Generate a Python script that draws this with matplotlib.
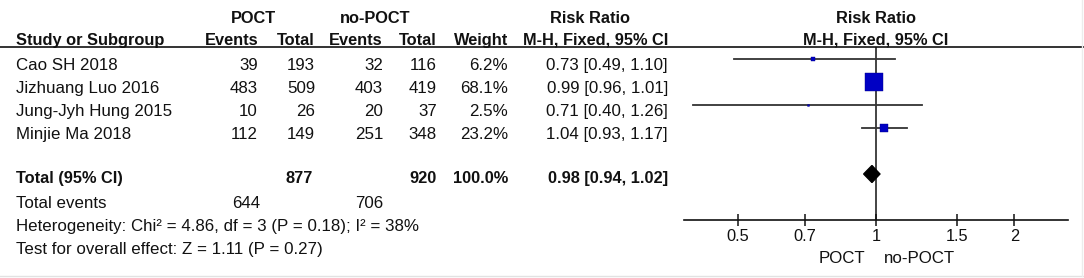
import matplotlib
matplotlib.use("Agg")
import matplotlib.pyplot as plt
import numpy as np

plt.rcParams['font.family'] = ['Liberation Sans', 'DejaVu Sans']
plt.rcParams['font.size'] = 12.2

# data
studies = ['Cao SH 2018', 'Jizhuang Luo 2016', 'Jung-Jyh Hung 2015', 'Minjie Ma 2018']
poct_events = [39, 483, 10, 112]
poct_total = [193, 509, 26, 149]
no_events = [32, 403, 20, 251]
no_total = [116, 419, 37, 348]
weights = [6.2, 68.1, 2.5, 23.2]
rr = [0.73, 0.99, 0.71, 1.04]
ci_low = [0.49, 0.96, 0.40, 0.93]
ci_high = [1.10, 1.01, 1.26, 1.17]

total_rr = 0.98
total_low = 0.94
total_high = 1.02
heterogeneity = 'Heterogeneity: Chi² = 4.86, df = 3 (P = 0.18); I² = 38%'
overall = 'Test for overall effect: Z = 1.11 (P = 0.27)'

ticks = [0.5, 0.7, 1, 1.5, 2]
tick_labels = ['0.5', '0.7', '1', '1.5', '2']

W, H = 1084, 278
fig = plt.figure(figsize=(W / 100, H / 100), dpi=100)

# text layer: x in pixels, y in row units (23 px per row, row 0 at y=59)
ax_t = fig.add_axes([0, 0, 1, 1])
ax_t.set_xlim(0, W)
ax_t.set_ylim((H - 59) / 23, (0 - 59) / 23)
ax_t.axis('off')

col_ev1, col_tot1, col_ev2, col_tot2, col_w, col_rr = 258, 315, 383, 437, 508, 668
txt = '#111111'
off = 0.46


def put(x, row, s, ha='right', bold=False, size=None):
    ax_t.text(x, row + off, s, ha=ha, va='baseline', color=txt,
              fontweight='bold' if bold else 'normal',
              fontsize=size if size else (11.8 if bold else 12.2))


# headers
hrow1, hrow2 = -1.565 - off, -0.63 - off
put(253, hrow1, 'POCT', ha='center', bold=True)
put(375, hrow1, 'no-POCT', ha='center', bold=True)
put(590, hrow1, 'Risk Ratio', ha='center', bold=True)
put(876, hrow1, 'Risk Ratio', ha='center', bold=True)
put(16, hrow2, 'Study or Subgroup', ha='left', bold=True)
put(col_ev1, hrow2, 'Events', bold=True)
put(col_tot1, hrow2, 'Total', bold=True)
put(col_ev2, hrow2, 'Events', bold=True)
put(col_tot2, hrow2, 'Total', bold=True)
put(col_w, hrow2, 'Weight', bold=True)
put(col_rr, hrow2, 'M-H, Fixed, 95% CI', bold=True)
put(876, hrow2, 'M-H, Fixed, 95% CI', ha='center', bold=True)

for i, name in enumerate(studies):
    put(16, i, name, ha='left')
    put(col_ev1, i, str(poct_events[i]))
    put(col_tot1, i, str(poct_total[i]))
    put(col_ev2, i, str(no_events[i]))
    put(col_tot2, i, str(no_total[i]))
    put(col_w, i, f'{weights[i]:.1f}%')
    put(col_rr, i, f'{rr[i]:.2f} [{ci_low[i]:.2f}, {ci_high[i]:.2f}]')

trow = len(studies) + 1
put(16, trow - 0.06, 'Total (95% CI)', ha='left', bold=True)
put(col_tot1 - 2, trow - 0.06, str(sum(poct_total)), bold=True)
put(col_tot2, trow - 0.06, str(sum(no_total)), bold=True)
put(col_w, trow - 0.06, f'{sum(weights):.1f}%', bold=True)
put(col_rr, trow - 0.06, f'{total_rr:.2f} [{total_low:.2f}, {total_high:.2f}]', bold=True)
put(16, trow + 1, 'Total events', ha='left')
put(col_ev1 + 2, trow + 1, str(sum(poct_events)))
put(col_ev2, trow + 1, str(sum(no_events)))
put(16, trow + 2, heterogeneity, ha='left')
put(16, trow + 3, overall, ha='left')
put(865, trow + 3.42, 'POCT')
put(884, trow + 3.42, 'no-POCT', ha='left')

# frame lines
ax_t.plot([0, W], [(47 - 59) / 23] * 2, color='#111111', lw=1.2, solid_capstyle='butt')
ax_t.plot([0, W], [(276 - 59) / 23] * 2, color='#e2e2e2', lw=1.0)
ax_t.plot([1082, 1082], [(0 - 59) / 23, (276 - 59) / 23], color='#ececec', lw=1.0)

# forest layer
x0, x1 = 684, 1068
ax_f = fig.add_axes([x0 / W, 1 - 220 / H, (x1 - x0) / W, 173 / H])
ax_f.patch.set_alpha(0)
ax_f.set_xscale('log')
ppl = 199.6
ax_f.set_xlim(np.exp((x0 - 876) / ppl), np.exp((x1 - 876) / ppl))
ax_f.set_ylim((220 - 59) / 23, (47 - 59) / 23)
for s in ['top', 'left', 'right']:
    ax_f.spines[s].set_visible(False)
ax_f.spines['bottom'].set_linewidth(1.2)
ax_f.spines['bottom'].set_color('#111111')
ax_f.set_yticks([])
ax_f.set_xticks(ticks)
ax_f.set_xticklabels(tick_labels)
ax_f.minorticks_off()
ax_f.tick_params(axis='x', direction='inout', length=8.5, width=1.1, pad=2.5,
                 colors='#111111', labelsize=11.8)

ax_f.axvline(1, color='#111111', lw=1.1, zorder=1)

for i in range(len(studies)):
    ax_f.plot([ci_low[i], ci_high[i]], [i, i], color='#333333', lw=1.3, zorder=2)
    side_px = 18.7 * (weights[i] / max(weights)) ** 0.7
    ax_f.plot(rr[i], i, marker='s', ms=side_px * 0.72, color='#0000c4',
              mec='#00008a', mew=0.3, zorder=3)

h = 0.37
ax_f.fill([total_low, total_rr, total_high, total_rr],
          [trow, trow - h, trow, trow + h], color='black', zorder=3)

fig.savefig('out.png', dpi=100)
